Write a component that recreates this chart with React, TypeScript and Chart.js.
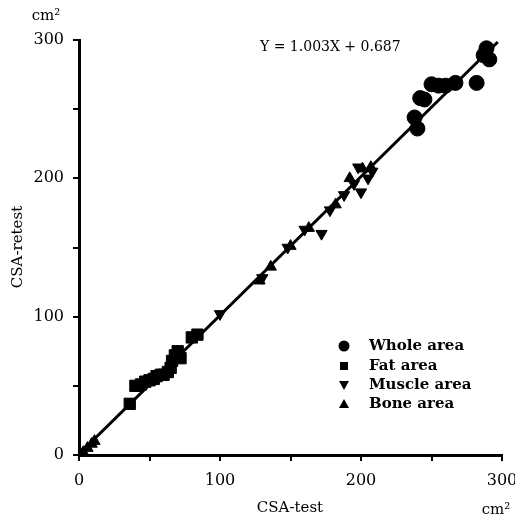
import React, { useEffect, useRef } from "react";
import { Chart, registerables } from "chart.js";

Chart.register(...registerables);

const wholeArea: [number, number][] = [
  [238, 244], [240, 236], [245, 257], [242, 258], [250, 268], [255, 267],
  [260, 267], [267, 269], [282, 269], [287, 289], [289, 294], [291, 286],
];
const fatArea: [number, number][] = [
  [36, 37], [40, 50], [44, 51], [47, 53], [50, 54], [53, 55], [55, 57], [58, 58],
  [60, 58], [63, 60], [65, 63], [66, 68], [68, 72], [70, 75], [72, 70], [80, 85], [84, 87],
];
const muscleArea: [number, number][] = [
  [100, 102], [130, 128], [148, 150], [160, 163], [172, 160], [178, 177],
  [188, 188], [195, 196], [200, 190], [205, 200], [208, 205], [198, 208],
];
const boneArea: [number, number][] = [
  [3, 2], [6, 5], [9, 8], [11, 10], [128, 126], [136, 136], [150, 151],
  [163, 164], [182, 181], [192, 200], [201, 207], [207, 208],
];
const slope = 1.003;
const intercept = 0.687;
const lineRange = [0, 297];
const tickLabels = ["0", "100", "200", "300"];
const legendLabels = ["Whole area", "Fat area", "Muscle area", "Bone area"];
const equationText = "Y = 1.003X + 0.687";
const xTitle = "CSA-test";
const yTitle = "CSA-retest";
const unitText = "cm²";

const FONT = "'DejaVu Serif', 'Liberation Serif', serif";

const toPts = (arr: [number, number][]) => arr.map(([x, y]) => ({ x, y }));

export default function App() {
  const ref = useRef<HTMLCanvasElement>(null);
  useEffect(() => {
    document.body.style.margin = "0";
    const canvas = ref.current!;
    const textPlugin = {
      id: "texts",
      afterDraw(chart: any) {
        const ctx = chart.ctx as CanvasRenderingContext2D;
        const { left, top, bottom } = chart.chartArea;
        ctx.save();
        ctx.fillStyle = "#000";
        ctx.textBaseline = "middle";
        ctx.textAlign = "left";
        ctx.font = `14px ${FONT}`;
        ctx.fillText(equationText, left + 181, top + 7);
        // legend
        const lx = left + 265;
        const ly = [bottom - 109, bottom - 89, bottom - 70, bottom - 51];
        const styles = ["circle", "rect", "down", "up"];
        ctx.font = `bold 15px ${FONT}`;
        styles.forEach((s, i) => {
          const y = ly[i];
          ctx.beginPath();
          if (s === "circle") {
            ctx.arc(lx, y, 5.5, 0, Math.PI * 2);
          } else if (s === "rect") {
            ctx.rect(lx - 4, y - 4, 8, 8);
          } else if (s === "down") {
            ctx.moveTo(lx - 5, y - 4);
            ctx.lineTo(lx + 5, y - 4);
            ctx.lineTo(lx, y + 5);
            ctx.closePath();
          } else {
            ctx.moveTo(lx - 5, y + 4);
            ctx.lineTo(lx + 5, y + 4);
            ctx.lineTo(lx, y - 5);
            ctx.closePath();
          }
          ctx.fill();
          ctx.fillText(legendLabels[i], lx + 25, y);
        });
        // titles
        ctx.font = `15px ${FONT}`;
        ctx.textAlign = "center";
        ctx.fillText(xTitle, 290, 508);
        ctx.fillText(unitText, 496, 510);
        ctx.fillText(unitText, 46, 16);
        ctx.translate(18, 247);
        ctx.rotate(-Math.PI / 2);
        ctx.fillText(yTitle, 0, 0);
        ctx.restore();
      },
    };
    const tickCb = (v: any) => (Number(v) % 100 === 0 ? tickLabels[Number(v) / 100] : "");
    const chart = new Chart(canvas, {
      type: "scatter",
      data: {
        datasets: [
          {
            type: "line",
            label: "fit",
            data: lineRange.map((x) => ({ x, y: slope * x + intercept })),
            borderColor: "#000",
            borderWidth: 3,
            pointRadius: 0,
            order: 5,
          } as any,
          {
            label: legendLabels[0],
            data: toPts(wholeArea),
            pointStyle: "circle",
            pointRadius: 7.5,
            backgroundColor: "#000",
            borderColor: "#000",
          },
          {
            label: legendLabels[1],
            data: toPts(fatArea),
            pointStyle: "rect",
            pointRadius: 8,
            backgroundColor: "#000",
            borderColor: "#000",
          },
          {
            label: legendLabels[2],
            data: toPts(muscleArea),
            pointStyle: "triangle",
            rotation: 180,
            pointRadius: 6.5,
            backgroundColor: "#000",
            borderColor: "#000",
          },
          {
            label: legendLabels[3],
            data: toPts(boneArea),
            pointStyle: "triangle",
            pointRadius: 6.5,
            backgroundColor: "#000",
            borderColor: "#000",
          },
        ],
      },
      options: {
        responsive: false,
        animation: false,
        layout: { padding: { left: 20, right: 13, top: 40, bottom: 35 } },
        plugins: { legend: { display: false }, tooltip: { enabled: false } },
        scales: {
          x: {
            type: "linear",
            min: 0,
            max: 300,
            afterFit: (s: any) => { s.height = 30; s.paddingRight = 0; s.paddingLeft = 0; },
            border: { width: 3, color: "#000" },
            grid: { drawOnChartArea: false, drawTicks: true, tickLength: 6, color: "#000", lineWidth: 2 },
            ticks: { stepSize: 50, autoSkip: false, maxRotation: 0, padding: 10, color: "#000", font: { family: FONT, size: 16 }, callback: tickCb },
          },
          y: {
            type: "linear",
            min: 0,
            max: 300,
            afterFit: (s: any) => { s.width = 59; s.paddingTop = 0; s.paddingBottom = 0; },
            border: { width: 3, color: "#000" },
            grid: { drawOnChartArea: false, drawTicks: true, tickLength: 6, color: "#000", lineWidth: 2 },
            ticks: { stepSize: 50, autoSkip: false, padding: 9, color: "#000", font: { family: FONT, size: 16 }, callback: tickCb },
          },
        },
      },
      plugins: [textPlugin],
    } as any);
    return () => chart.destroy();
  }, []);
  return <canvas ref={ref} width={515} height={520} style={{ display: "block" }} />;
}
